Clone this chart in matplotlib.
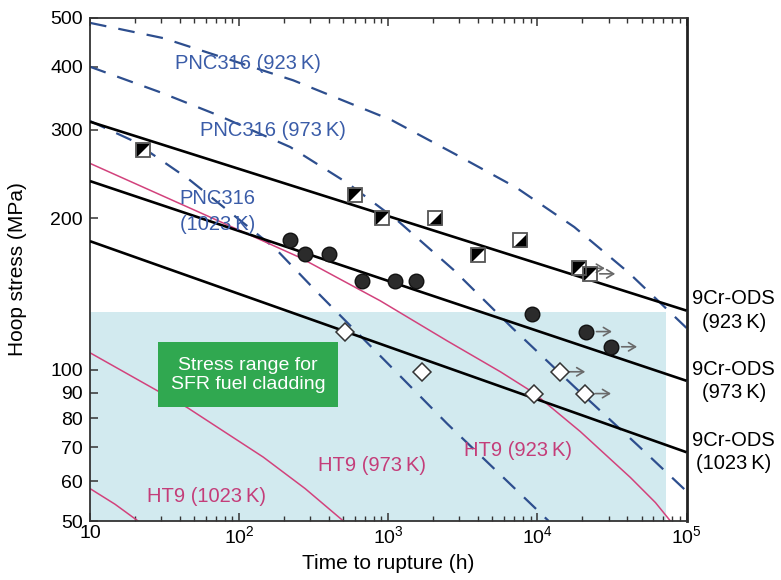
import matplotlib
matplotlib.use("Agg")
import matplotlib.pyplot as plt
from matplotlib.ticker import FixedLocator, FixedFormatter, LogLocator, NullFormatter, NullLocator
from matplotlib.patches import Rectangle

plt.rcParams['font.family'] = ['Liberation Sans', 'DejaVu Sans']
plt.rcParams['mathtext.fontset'] = 'custom'
plt.rcParams['mathtext.rm'] = 'Liberation Sans'
plt.rcParams['mathtext.it'] = 'Liberation Sans:italic'

# ---- 9Cr-ODS fitted rupture lines (h, MPa) ----
ods_line_t = [10, 1e5]
ods923_line = [311, 131]
ods973_line = [237, 95]
ods1023_line = [180, 68.5]

# ---- 9Cr-ODS test data (h, MPa) ----
ods923_t = [22.8, 601, 908, 2065, 4020, 7690, 19100, 22400]
ods923_s = [273, 222, 200, 200, 169, 181, 159, 155]
ods923_lowright = [False, False, False, True, False, True, False, False]
ods923_runout = [False, False, False, False, False, False, True, True]

ods973_t = [220, 277, 402, 670, 1110, 1540, 9200, 21300, 31400]
ods973_s = [181, 170, 170, 150, 150, 150, 129, 119, 111]
ods973_runout = [False, False, False, False, False, False, False, True, True]

ods1023_t = [514, 1683, 9440, 14100, 21000]
ods1023_s = [119, 99, 89.4, 99, 89.6]
ods1023_runout = [False, False, False, True, True]

# ---- PNC316 rupture curves ----
pnc923_t = [10, 31, 230, 1060, 2820, 7230, 17700, 40800, 100000]
pnc923_s = [489, 456, 376, 313, 268, 230, 192, 156, 121]
pnc973_t = [10, 29.5, 71, 220, 531, 1150, 2730, 6790, 18000, 46900, 100000]
pnc973_s = [400, 356, 321, 277, 235, 198, 158, 121, 92, 70.8, 57.3]
pnc1023_t = [10, 19.4, 46, 175, 333, 1030, 2490, 5920, 11900]
pnc1023_s = [312, 285, 239, 174, 142.6, 101.7, 78, 61, 50]

# ---- HT9 rupture curves ----
ht923_t = [10, 55, 256, 884, 2490, 5650, 9400, 19400, 42100, 61900, 78000]
ht923_s = [257, 205, 167, 137, 114, 99, 90, 75.3, 61, 54.4, 50]
ht973_t = [10, 45, 145, 277, 500]
ht973_s = [108, 84, 67, 58, 50]
ht1023_t = [10, 14.7, 21]
ht1023_s = [58, 54, 50]

# ---- SFR cladding stress window ----
sfr_t_max = 7.3e4
sfr_s_range = [50, 130]

x_ticks = [10, 1e2, 1e3, 1e4, 1e5]
x_ticklabels = ['10', r'$\mathregular{10^2}$', r'$\mathregular{10^3}$',
                r'$\mathregular{10^4}$', r'$\mathregular{10^5}$']
y_ticks = [50, 60, 70, 80, 90, 100, 200, 300, 400, 500]
y_ticklabels = [str(v) for v in y_ticks]

BLUE = '#2d4e8e'
BLUE_TXT = '#3a5ca8'
PINK = '#d2427c'
PINK_TXT = '#c43d79'

fig = plt.figure(figsize=(7.81, 5.80), dpi=100)
ax = fig.add_axes([90 / 781, 59 / 580, 596.5 / 781, 503 / 580])
ax.set_xscale('log')
ax.set_yscale('log')
ax.set_xlim(10, 1e5)
ax.set_ylim(50, 500)

# stress window for SFR fuel cladding
ax.add_patch(Rectangle((10, sfr_s_range[0]), sfr_t_max - 10, sfr_s_range[1] - sfr_s_range[0],
                       facecolor='#d2eaef', edgecolor='none', zorder=0))

# PNC316 curves
dash = (0, (7.5, 5.5))
for t, s in [(pnc923_t, pnc923_s), (pnc973_t, pnc973_s), (pnc1023_t, pnc1023_s)]:
    ax.plot(t, s, color=BLUE, lw=1.6, ls=dash, zorder=2)

# HT9 curves
for t, s in [(ht923_t, ht923_s), (ht973_t, ht973_s), (ht1023_t, ht1023_s)]:
    ax.plot(t, s, color=PINK, lw=1.1, zorder=2)

# 9Cr-ODS lines
for s in [ods923_line, ods973_line, ods1023_line]:
    ax.plot(ods_line_t, s, color='black', lw=1.9, zorder=3, solid_capstyle='butt')

# half-filled squares (923 K)
tri_ul = [(-1, 1), (1, 1), (-1, -1), (-1, 1)]
tri_lr = [(1, 1), (1, -1), (-1, -1), (1, 1)]
for t, s, lr in zip(ods923_t, ods923_s, ods923_lowright):
    ax.plot(t, s, marker='s', ms=10, mfc='white', mec='none', ls='none', zorder=4)
    ax.plot(t, s, marker=tri_lr if lr else tri_ul, ms=10, mfc='black', mec='none',
            ls='none', zorder=5)
    ax.plot(t, s, marker='s', ms=10, mfc='none', mec='#555555', mew=1.3, ls='none', zorder=6)

# filled circles (973 K)
ax.plot(ods973_t, ods973_s, marker='o', ms=10.5, mfc='#2b2b2b', mec='#111111', mew=1.0,
        ls='none', zorder=5)

# open diamonds (1023 K)
ax.plot(ods1023_t, ods1023_s, marker='D', ms=8.8, mfc='white', mec='#333333', mew=1.1,
        ls='none', zorder=5)

# run-out arrows
for ts, ss, ro in [(ods923_t, ods923_s, ods923_runout),
                   (ods973_t, ods973_s, ods973_runout),
                   (ods1023_t, ods1023_s, ods1023_runout)]:
    for t, s, r in zip(ts, ss, ro):
        if r:
            ax.annotate('', xy=(t * 1.55, s), xytext=(t * 1.12, s),
                        arrowprops=dict(arrowstyle='->,head_length=0.5,head_width=0.3',
                                        color='#6a6a6a', lw=1.2),
                        zorder=4)

# labels for curves (axes fraction coordinates)
fs = 14.5
ax.text(0.265, 0.910, 'PNC316 (923\u2009K)', transform=ax.transAxes, color=BLUE_TXT,
        fontsize=fs, ha='center', va='center', zorder=7)
ax.text(0.307, 0.777, 'PNC316 (973\u2009K)', transform=ax.transAxes, color=BLUE_TXT,
        fontsize=fs, ha='center', va='center', zorder=7)
ax.text(0.214, 0.615, 'PNC316\n(1023\u2009K)', transform=ax.transAxes, color=BLUE_TXT,
        fontsize=fs, ha='center', va='center', linespacing=1.45, zorder=7)
ax.text(0.195, 0.048, 'HT9 (1023\u2009K)', transform=ax.transAxes, color=PINK_TXT,
        fontsize=fs, ha='center', va='center', zorder=7)
ax.text(0.473, 0.111, 'HT9 (973\u2009K)', transform=ax.transAxes, color=PINK_TXT,
        fontsize=fs, ha='center', va='center', zorder=7)
ax.text(0.717, 0.141, 'HT9 (923\u2009K)', transform=ax.transAxes, color=PINK_TXT,
        fontsize=fs, ha='center', va='center', zorder=7)

# green box
ax.add_patch(Rectangle((0.114, 0.226), 0.302, 0.1305, transform=ax.transAxes,
                       facecolor='#30a850', edgecolor='none', zorder=7))
ax.text(0.265, 0.291, 'Stress range for\nSFR fuel cladding', transform=ax.transAxes,
        color='white', fontsize=14, ha='center', va='center', linespacing=1.15, zorder=8)

# right-hand labels at line ends
for s, temp in [(ods923_line[1], '923'), (ods973_line[1], '973'), (ods1023_line[1], '1023')]:
    ax.annotate('9Cr-ODS\n(' + temp + '\u2009K)', xy=(1e5, s), xycoords='data',
                xytext=(34, 0), textcoords='offset points', ha='center', va='center',
                fontsize=fs, linespacing=1.3, annotation_clip=False)

# axes and ticks
ax.xaxis.set_major_locator(FixedLocator(x_ticks))
ax.xaxis.set_major_formatter(FixedFormatter(x_ticklabels))
ax.xaxis.set_minor_locator(LogLocator(base=10, subs=range(2, 10)))
ax.xaxis.set_minor_formatter(NullFormatter())
ax.yaxis.set_major_locator(FixedLocator(y_ticks))
ax.yaxis.set_major_formatter(FixedFormatter(y_ticklabels))
ax.yaxis.set_minor_locator(NullLocator())
ax.tick_params(axis='both', which='both', direction='in', top=True, right=False,
               color='#333333', labelsize=14)
ax.tick_params(axis='both', which='major', length=6, width=1.1)
ax.tick_params(axis='both', which='minor', length=3.5, width=1.0)
ax.tick_params(axis='x', pad=3)
ax.tick_params(axis='y', pad=5)
for side in ['left', 'top', 'bottom']:
    ax.spines[side].set_linewidth(1.3)
    ax.spines[side].set_color('#333333')
ax.spines['right'].set_linewidth(2.0)
ax.spines['right'].set_color('#222222')

ax.set_xlabel('Time to rupture (h)', fontsize=15)
ax.set_ylabel('Hoop stress (MPa)', fontsize=15)
ax.xaxis.set_label_coords(0.5, -0.066)
ax.yaxis.set_label_coords(-0.105, 0.5)

fig.savefig('out.png', dpi=100)
